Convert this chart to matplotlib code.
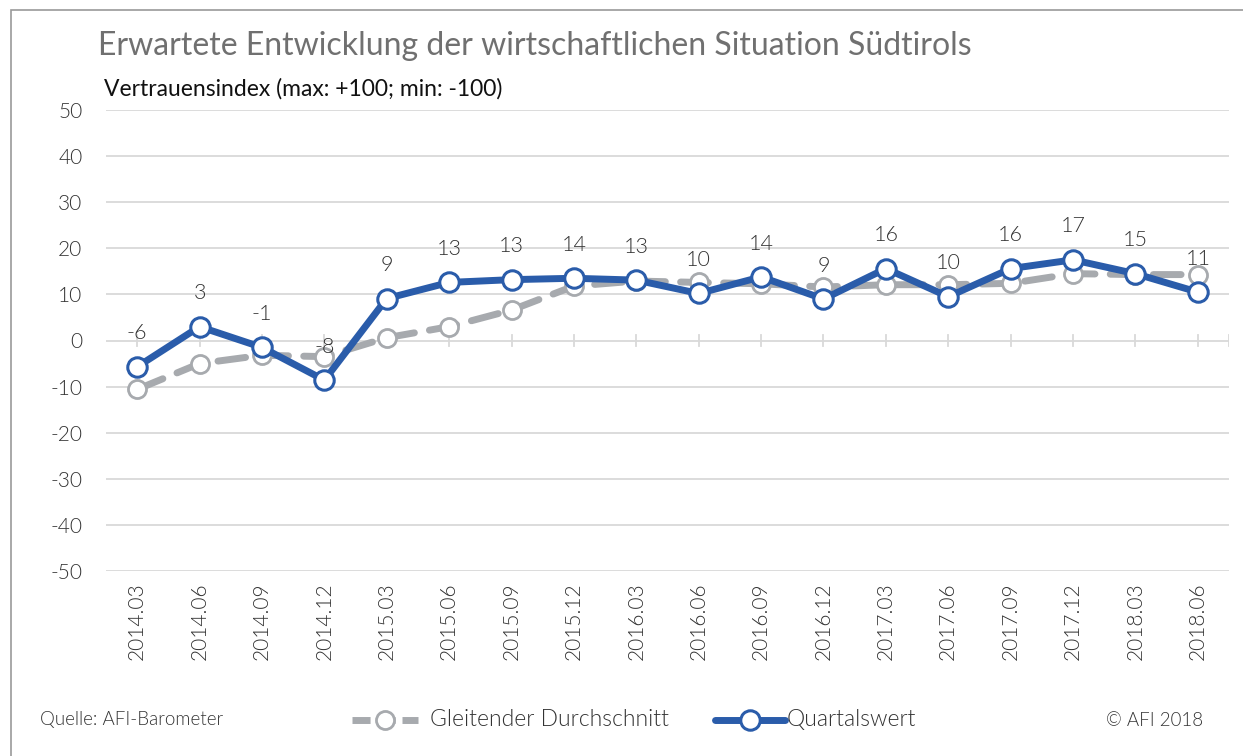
import matplotlib
matplotlib.use("Agg")
import matplotlib.pyplot as plt
from matplotlib.lines import Line2D
from matplotlib.patches import Rectangle

categories = ["2014.03", "2014.06", "2014.09", "2014.12", "2015.03", "2015.06",
              "2015.09", "2015.12", "2016.03", "2016.06", "2016.09", "2016.12",
              "2017.03", "2017.06", "2017.09", "2017.12", "2018.03", "2018.06"]
quartalswert = [-5.7, 3.0, -1.5, -8.6, 9.1, 12.6, 13.2, 13.5, 13.1, 10.2, 13.8,
                9.0, 15.6, 9.5, 15.6, 17.5, 14.5, 10.5]
quartal_labels = ["-6", "3", "-1", "-8", "9", "13", "13", "14", "13", "10", "14",
                  "9", "16", "10", "16", "17", "15", "11"]
gleitend = [-10.6, -5.0, -3.2, -3.5, 0.6, 3.0, 6.6, 11.8, 12.9, 12.6, 12.3,
            11.6, 12.1, 12.1, 12.4, 14.5, 14.3, 14.3]
yticks = [50, 40, 30, 20, 10, 0, -10, -20, -30, -40, -50]

FONT = "Lato"
plt.rcParams["font.family"] = [FONT, "DejaVu Sans"]

BLUE = "#2A5CAA"
GRAY = "#A7AAAE"
TXT = "#333333"
LW = 300

W, H = 1243, 756
fig = plt.figure(figsize=(W / 100, H / 100), dpi=100)

# frame
fig.patches.append(Rectangle((11 / W, -0.1), 1.2, 1 - 10 / H + 0.1, transform=fig.transFigure,
                             fill=False, edgecolor="#9A9A9A", linewidth=1.2))

ax = fig.add_axes([106 / W, 1 - 571 / H, (1229 - 106) / W, (571 - 110) / H])
x = list(range(len(categories)))
ax.set_xlim(-0.5, len(categories) - 0.5)
ax.set_ylim(-50, 50)
for s in ax.spines.values():
    s.set_visible(False)
for yv in yticks:
    ax.axhline(yv, color="#D9D9D9", linewidth=1.3, zorder=0)
ax.set_yticks(yticks)
ax.set_yticklabels([str(v) for v in yticks], fontsize=15, color=TXT, fontweight=LW)
ax.tick_params(axis="y", length=0, pad=17)
ax.set_xticks(x)
ax.set_xticklabels(categories, rotation=90, fontsize=15, color=TXT, fontweight=LW)
ax.tick_params(axis="x", length=0, pad=8)
# tick marks on the zero line
for xi in x + [len(categories) - 0.5]:
    ax.plot([xi, xi], [-1.3, 1.3], color="#D9D9D9", linewidth=1.3, zorder=0)

ax.plot(x, gleitend, color=GRAY, linewidth=5, dashes=(4, 2.2), dash_capstyle="round",
        marker="o", markersize=13, markerfacecolor="white", markeredgecolor=GRAY,
        markeredgewidth=2, zorder=2)
ax.plot(x, quartalswert, color=BLUE, linewidth=5, marker="o", markersize=14,
        markerfacecolor="white", markeredgecolor=BLUE, markeredgewidth=2.2, zorder=3)
for xi, v, lab in zip(x, quartalswert, quartal_labels):
    ax.annotate(lab, (xi, v), xytext=(0, 24), textcoords="offset points",
                ha="center", va="center", fontsize=15.5, color=TXT, fontweight=LW, zorder=4)

fig.text(98 / W, 1 - 46 / H, "Erwartete Entwicklung der wirtschaftlichen Situation Südtirols",
         fontsize=23, color="#707070", va="center", ha="left")
fig.text(104 / W, 1 - 89 / H, "Vertrauensindex (max: +100; min: -100)",
         fontsize=16.5, color="#111111", va="center", ha="left")

fig.text(40 / W, 1 - 720 / H, "Quelle: AFI-Barometer", fontsize=13.5, color=TXT,
         va="center", fontweight=LW)
fig.text(1203 / W, 1 - 720 / H, "© AFI 2018", fontsize=13.5, color=TXT, va="center",
         ha="right", fontweight=LW)

yl = 1 - 720 / H
fig.lines.append(Line2D([352 / W, 418 / W], [yl, yl], transform=fig.transFigure, color=GRAY,
                        linewidth=5, dashes=(2.6, 1.0), solid_capstyle="round"))
fig.lines.append(Line2D([385 / W], [yl], transform=fig.transFigure, marker="o", markersize=13,
                        markerfacecolor="white", markeredgecolor=GRAY, markeredgewidth=2))
fig.text(430 / W, yl, "Gleitender Durchschnitt", fontsize=16.5, color=TXT, va="center",
         fontweight=LW)
fig.lines.append(Line2D([715 / W, 785 / W], [yl, yl], transform=fig.transFigure, color=BLUE,
                        linewidth=5, solid_capstyle="round"))
fig.lines.append(Line2D([750 / W], [yl], transform=fig.transFigure, marker="o", markersize=14,
                        markerfacecolor="white", markeredgecolor=BLUE, markeredgewidth=2.2))
fig.text(787 / W, yl, "Quartalswert", fontsize=16.5, color=TXT, va="center", fontweight=LW)

fig.savefig("out.png", dpi=100)
